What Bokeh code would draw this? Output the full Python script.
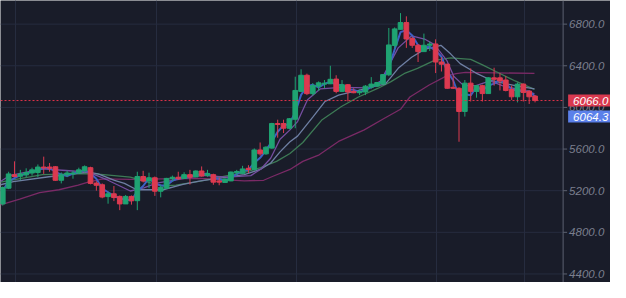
from bokeh.plotting import figure
from bokeh.models import FixedTicker, Label, Span, ColumnDataSource
from bokeh.core.properties import value
from bokeh.embed import file_html
from bokeh.resources import INLINE

# ---- candle data (index = candle number) ----
opens = [5073, 5224, 5352, 5339, 5352, 5370, 5375, 5427, 5427, 5430,
         5300, 5352, 5361, 5370, 5391, 5421, 5273, 5257, 5143, 5170,
         5145, 5073, 5145, 5104, 5336, 5293, 5324, 5195, 5223, 5315,
         5329, 5318, 5354, 5332, 5389, 5348, 5354, 5294, 5279, 5294,
         5373, 5366, 5415, 5403, 5591, 5554, 5609, 5845, 5845, 5800,
         5886, 6154, 6309, 6132, 6204, 6224, 6227, 6272, 6154, 6218,
         6154, 6141, 6148, 6195, 6204, 6224, 6313, 6595, 6750, 6815,
         6663, 6597, 6536, 6597, 6609, 6436, 6415, 6193, 6184, 5961,
         6233, 6154, 6209, 6133, 6284, 6284, 6263, 6172, 6102, 6224,
         6157, 6109]
closes = [5230, 5361, 5336, 5361, 5375, 5400, 5427, 5418, 5415, 5300,
          5352, 5370, 5370, 5400, 5430, 5270, 5252, 5139, 5170, 5134,
          5073, 5145, 5103, 5336, 5293, 5324, 5195, 5232, 5318, 5329,
          5315, 5354, 5330, 5389, 5341, 5364, 5282, 5282, 5312, 5379,
          5384, 5409, 5403, 5591, 5554, 5618, 5845, 5836, 5800, 5891,
          6163, 6309, 6132, 6209, 6236, 6233, 6270, 6154, 6218, 6148,
          6141, 6154, 6204, 6224, 6239, 6315, 6600, 6754, 6815, 6657,
          6597, 6536, 6597, 6609, 6436, 6415, 6184, 6184, 5961, 6233,
          6154, 6209, 6133, 6284, 6270, 6254, 6163, 6102, 6224, 6143,
          6102, 6066]
highs = [5239, 5382, 5482, 5400, 5415, 5421, 5452, 5527, 5466, 5436,
         5375, 5391, 5391, 5421, 5443, 5430, 5291, 5270, 5191, 5245,
         5154, 5159, 5154, 5382, 5391, 5373, 5336, 5254, 5323, 5345,
         5382, 5377, 5400, 5395, 5433, 5400, 5363, 5324, 5318, 5384,
         5400, 5439, 5445, 5606, 5663, 5627, 5852, 5882, 5882, 5897,
         6295, 6366, 6324, 6233, 6250, 6263, 6400, 6309, 6263, 6224,
         6184, 6172, 6215, 6291, 6245, 6321, 6763, 6768, 6906, 6875,
         6679, 6609, 6709, 6633, 6654, 6482, 6421, 6306, 6193, 6263,
         6375, 6215, 6218, 6291, 6381, 6330, 6300, 6209, 6239, 6230,
         6163, 6118]
lows = [5057, 5215, 5330, 5300, 5330, 5345, 5330, 5361, 5382, 5295,
        5270, 5330, 5315, 5361, 5375, 5261, 5200, 5127, 5075, 5100,
        5013, 5073, 5066, 5013, 5279, 5224, 5150, 5136, 5218, 5291,
        5304, 5314, 5259, 5330, 5334, 5334, 5257, 5252, 5277, 5291,
        5348, 5363, 5370, 5394, 5536, 5545, 5603, 5709, 5754, 5791,
        5800, 6150, 6118, 6113, 6159, 6184, 6224, 6136, 6148, 6057,
        6136, 6118, 6118, 6179, 6195, 6224, 6300, 6568, 6748, 6572,
        6572, 6436, 6536, 6542, 6330, 6345, 6179, 6179, 5670, 5912,
        6057, 6093, 6057, 6133, 6209, 6163, 6154, 6072, 6048, 6057,
        6033, 6048]

# ---- moving-average lines ----
ma_blue_x = list(range(92))
ma_blue_y = [5200, 5290, 5320, 5350, 5360, 5385, 5400, 5415, 5420, 5380,
             5355, 5340, 5365, 5380, 5400, 5365, 5315, 5220, 5185, 5150,
             5125, 5115, 5105, 5195, 5245, 5320, 5270, 5250, 5250, 5295,
             5320, 5335, 5335, 5355, 5355, 5365, 5330, 5310, 5295, 5325,
             5360, 5390, 5400, 5468, 5516, 5588, 5672, 5766, 5827, 5842,
             5951, 6121, 6201, 6217, 6192, 6226, 6246, 6219, 6214, 6173,
             6169, 6148, 6166, 6194, 6222, 6259, 6385, 6556, 6723, 6742,
             6690, 6597, 6577, 6581, 6547, 6487, 6345, 6261, 6110, 6126,
             6116, 6199, 6165, 6209, 6229, 6269, 6229, 6173, 6163, 6156,
             6156, 6104]
ma_purple_x = [-0.4, 1.3, 6.8, 10.8, 14.6, 17.9, 21.8, 24.1, 26.3, 29.6, 34.1,
               38.4, 42.4, 44.1, 45.8, 47.4, 49.1, 50.4, 52.1, 54.3, 57.9, 62.6,
               64.6, 67.6, 69.9, 72.1, 73.8, 75.9, 77.1, 78.8, 80.9, 83.3, 85.4,
               88.8, 90.9]
ma_purple_y = [5288, 5348, 5409, 5394, 5379, 5303, 5197, 5227, 5273, 5303, 5348,
               5330, 5345, 5406, 5512, 5694, 5784, 5864, 6073, 6179, 6193, 6188,
               6254, 6572, 6688, 6657, 6603, 6452, 6300, 6209, 6209, 6254, 6209,
               6163, 6133]
ma_grey_x = [-0.4, 1.8, 7.9, 14.6, 16.3, 19.1, 20.8, 22.9, 27.4, 30.8, 33.8,
             38.4, 41.3, 44.1, 45.8, 47.4, 49.1, 50.4, 53.0, 55.1, 57.4, 60.8,
             64.1, 65.4, 67.6, 69.9, 72.1, 74.9, 76.6, 78.2, 80.9, 83.8, 87.6,
             90.9]
ma_grey_y = [5257, 5288, 5334, 5379, 5361, 5300, 5270, 5209, 5209, 5261, 5295,
             5330, 5354, 5406, 5466, 5573, 5670, 5724, 5906, 6057, 6118, 6163,
             6209, 6224, 6375, 6482, 6557, 6597, 6512, 6421, 6330, 6254, 6209,
             6179]
ma_green_x = [-0.4, 6.8, 14.6, 16.3, 21.8, 24.6, 27.4, 29.6, 33.8, 38.4, 41.3,
              44.1, 46.8, 49.1, 51.3, 54.6, 57.9, 60.8, 64.1, 66.3, 68.8, 70.9,
              73.8, 76.6, 80.0, 82.1, 84.3, 87.6, 90.9]
ma_green_y = [5282, 5354, 5363, 5359, 5330, 5284, 5245, 5254, 5291, 5345, 5375,
              5421, 5482, 5557, 5663, 5882, 6009, 6100, 6182, 6245, 6330, 6375,
              6452, 6475, 6461, 6406, 6345, 6254, 6173]
ma_magenta_x = [-0.4, 2.9, 6.3, 9.6, 12.9, 14.6, 17.1, 21.8, 27.4, 33.8, 41.3,
                44.6, 46.3, 49.1, 51.3, 54.1, 57.4, 61.8, 65.1, 68.0, 69.6, 72.9,
                75.8, 77.5, 79.1, 90.9]
ma_magenta_y = [5063, 5118, 5182, 5209, 5254, 5282, 5314, 5309, 5314, 5318, 5295,
                5300, 5341, 5404, 5482, 5545, 5673, 5784, 5891, 5982, 6100, 6215,
                6300, 6324, 6336, 6327]

y_ticks = [4400, 4800, 5200, 5600, 6000, 6400, 6800]
y_tick_labels = [f"{t:.1f}" for t in y_ticks]
x_grid_ticks = [2.16, 26.2, 50.2, 74.2, 89.2]
last_price = 6066.0
mark_price = 6064.3

# layout constants
X_START, X_END = -0.39, 103.9
AXIS_X = 95.8
BG = "#191c29"
GRID = "#262c3f"
AXIS_C = "#5c6170"
UP = "#1fa372"
DOWN = "#dc3a50"
FONT = "Liberation Sans"
FSIZE = "11.5px"

p = figure(width=610, height=282, x_range=(X_START, X_END), y_range=(4318, 7027),
           x_axis_location=None, y_axis_location=None,
           output_backend="svg", toolbar_location=None,
           background_fill_color=BG, border_fill_color=BG, min_border=0)
p.outline_line_color = None

p.xgrid.ticker = FixedTicker(ticks=x_grid_ticks)
p.xgrid.grid_line_color = GRID
p.ygrid.visible = False

# horizontal grid lines up to the price axis
p.segment(x0=X_START, x1=AXIS_X, y0=y_ticks, y1=y_ticks, line_color=GRID, line_width=1)

# moving averages
p.line(ma_magenta_x, ma_magenta_y, line_color="#7a2a66", line_width=1.3)
p.line(ma_green_x, ma_green_y, line_color="#3d7a55", line_width=1.3)
p.line(ma_grey_x, ma_grey_y, line_color="#6e7fa3", line_width=1.3)
p.line(ma_purple_x, ma_purple_y, line_color="#754ea0", line_width=1.3)
p.line(ma_blue_x, ma_blue_y, line_color="#3e5fc4", line_width=2)

idx = list(range(len(opens)))
colors = [UP if c >= o else DOWN for o, c in zip(opens, closes)]
src = ColumnDataSource(dict(x=idx, o=opens, c=closes, h=highs, l=lows,
                            top=[max(o, c) for o, c in zip(opens, closes)],
                            bot=[min(o, c) for o, c in zip(opens, closes)],
                            col=colors))
p.segment(x0="x", y0="h", x1="x", y1="l", color="col", line_width=1, source=src)
p.vbar(x="x", width=0.8, top="top", bottom="bot", fill_color="col",
       line_color="col", line_width=1, source=src)

# last-price dotted line (stops at the axis)
p.segment(x0=[X_START], x1=[AXIS_X], y0=[last_price], y1=[last_price],
          line_color="#e0334a", line_dash="2 2", line_width=1)

# price axis on the right
p.add_layout(Span(location=AXIS_X, dimension="height", line_color=AXIS_C, line_width=1))
p.ray(x=[AXIS_X] * len(y_ticks), y=y_ticks, length=4, length_units="screen",
      angle=0, line_color=AXIS_C, line_width=1)
p.text(x=[AXIS_X] * len(y_ticks), y=y_ticks, text=y_tick_labels, x_offset=6,
       text_font=value(FONT), text_font_style="italic",
       text_font_size=FSIZE, text_color="#7b7f8e",
       text_baseline="middle", text_align="left")

lab1 = Label(x=AXIS_X, y=last_price, text=f"{last_price:.1f}", text_color="white",
             text_font=FONT, text_font_style="italic",
             text_font_size=FSIZE, text_baseline="middle", text_align="left",
             x_offset=5, background_fill_color="#d9394f", padding=(5, 2))
lab2 = Label(x=AXIS_X, y=last_price, text=f"{mark_price:.1f}", text_color="white",
             text_font=FONT, text_font_style="italic",
             text_font_size=FSIZE, text_baseline="middle", text_align="left",
             x_offset=5, y_offset=-16, background_fill_color="#5b80ea",
             padding=(5, 2))
p.add_layout(lab1)
p.add_layout(lab2)

open("out.html", "w").write(file_html(p, INLINE))
